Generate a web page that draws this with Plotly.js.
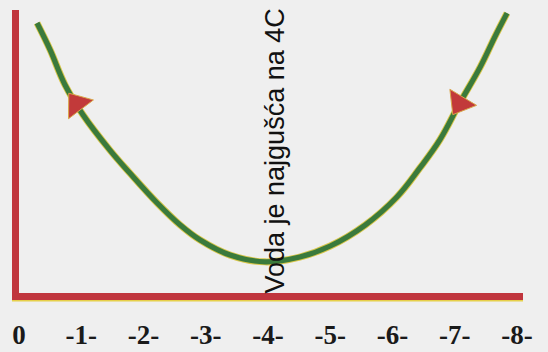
<!DOCTYPE html>
<html>
<head>
<meta charset="utf-8">
<script src="https://cdn.plot.ly/plotly-3.0.1.min.js"></script>
<style>
  html, body { margin: 0; padding: 0; background: #efefef; }
  #chart { width: 548px; height: 352px; }
</style>
</head>
<body>
<div id="chart"></div>
<script>
// temperature (C) along the bottom, relative volume (arbitrary units) up the side
var temps = [0.29, 0.50, 0.74, 1.03, 1.46, 1.78, 2.22, 2.59, 2.91, 3.39, 3.95,
             4.51, 5.00, 5.56, 6.07, 6.44, 6.76, 7.08, 7.41, 7.65, 7.84];
var volume = [95.4, 85.9, 73.5, 62.9, 50.5, 42.4, 31.8, 24.0, 18.7, 13.4, 11.0,
              12.7, 16.6, 24.0, 33.9, 44.2, 54.1, 67.1, 79.9, 90.8, 98.9];

// direction arrows sitting on the curve
var arrowTemps = [0.93, 7.08];
var arrowVolume = [66.8, 67.1];
var arrowAngles = [-37, 211];

var tickVals = [0, 1, 2, 3, 4, 5, 6, 7, 8];
var tickText = ['0', '-1-', '-2-', '-3-', '-4-', '-5-', '-6-', '-7-', '-8-'];

var edge = {
    x: temps,
    y: volume,
    mode: 'lines',
    line: {color: '#d8c64a', width: 7, shape: 'spline', smoothing: 1.1},
    hoverinfo: 'skip'
};

var curve = {
    x: temps,
    y: volume,
    mode: 'lines',
    line: {color: '#3a7a3c', width: 5.2, shape: 'spline', smoothing: 1.1}
};

var arrows = {
    x: arrowTemps,
    y: arrowVolume,
    mode: 'markers',
    marker: {
        symbol: 'triangle-up',
        size: 27,
        angle: arrowAngles,
        color: '#c23a3a',
        line: {color: '#d9a64a', width: 1}
    }
};

var data = [edge, curve, arrows];

var layout = {
    width: 548,
    height: 352,
    margin: {l: 19, r: 25, t: 10, b: 59},
    paper_bgcolor: '#efefef',
    plot_bgcolor: '#efefef',
    showlegend: false,
    xaxis: {
        range: [0, 8.096],
        tickvals: tickVals,
        ticktext: tickText,
        ticks: '',
        showgrid: false,
        zeroline: false,
        showline: true,
        linecolor: '#c0353d',
        linewidth: 7,
        ticklabelstandoff: 12,
        tickfont: {family: 'Liberation Serif', size: 27, color: '#1a1a1a', weight: 'bold'}
    },
    yaxis: {
        range: [0, 100],
        showticklabels: false,
        ticks: '',
        showgrid: false,
        zeroline: false,
        showline: true,
        linecolor: '#c0353d',
        linewidth: 7
    },
    shapes: [{
        type: 'line', xref: 'paper', yref: 'paper',
        x0: -0.014, x1: 1, y0: -0.027, y1: -0.027,
        line: {color: '#e6d04a', width: 1.5}
    }],
    annotations: [{
        x: 4, y: 50,
        xref: 'x', yref: 'y',
        text: 'Voda je najgušća na 4C',
        textangle: -90,
        showarrow: false,
        xshift: 6,
        font: {family: 'Liberation Sans', size: 27, color: '#111111'}
    }]
};

Plotly.newPlot('chart', data, layout, {staticPlot: true});
</script>
</body>
</html>
